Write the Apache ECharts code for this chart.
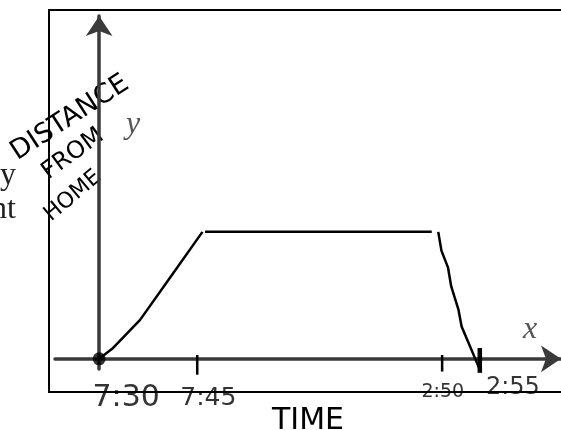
<!DOCTYPE html>
<html>
<head>
<meta charset="utf-8">
<title>Distance from home</title>
<script src="https://cdn.jsdelivr.net/npm/echarts@6/dist/echarts.min.js"></script>
<style>
  html, body { margin: 0; padding: 0; background: #fff; }
  #main { width: 561px; height: 430px; }
</style>
</head>
<body>
<div id="main"></div>
<script>
// sketch units: x = minutes-ish along the (not to scale) time axis, y = distance
var tripX = [0, 2.0, 6.3, 10.9, 15.9, null, 16.3, 51.2, null, 52.2, 52.7, 53.7, 54.2, 55.3, 55.8, 57.1, 58.5];
var tripY = [0, 0.79, 3.07, 6.38, 10, null, 10, 10, null, 10, 8.5, 7.2, 5.7, 3.9, 2.55, 0.97, -0.73];

var tickX = [15.1, 52.8, 58.6];
var tickTop = [0.3, 0.3, 0.85];
var tickBottom = [-1.25, -1.0, -1.1];

var timeLabels = ['7:30', '7:45', '2:50', '2:55'];
var labelX = [4.15, 16.8, 52.9, 63.7];
var labelY = [-3.1, -3.1, -2.6, -2.25];
var labelSize = [30, 25, 19, 24];

var chart = echarts.init(document.getElementById('main'), null, {renderer: 'canvas'});

var hand = "'DejaVu Sans', sans-serif";
var serif = "'Liberation Serif', serif";

var series = [];

series.push({
  type: 'line',
  data: tripX.map(function (x, i) { return x === null ? ['-', '-'] : [x, tripY[i]]; }),
  showSymbol: false,
  connectNulls: false,
  clip: false,
  lineStyle: {color: '#000', width: 2.5},
  silent: true,
  z: 5
});

// hand drawn tick marks
tickX.forEach(function (x, i) {
  series.push({
    type: 'line',
    data: [[x, tickTop[i]], [x, tickBottom[i]]],
    showSymbol: false,
    clip: false,
    lineStyle: {color: '#000', width: i === 2 ? 4.5 : 2.5},
    silent: true,
    z: 6
  });
});

// start dot
series.push({
  type: 'scatter',
  data: [[0, 0]],
  symbolSize: 13,
  itemStyle: {color: '#000'},
  silent: true,
  z: 7
});

// time labels
series.push({
  type: 'scatter',
  data: labelX.map(function (x, i) {
    return {
      value: [x, labelY[i]],
      label: {fontSize: labelSize[i]}
    };
  }),
  symbolSize: 1,
  itemStyle: {color: 'rgba(0,0,0,0)'},
  clip: false,
  silent: true,
  label: {
    show: true,
    position: 'inside',
    color: '#000',
    fontFamily: hand,
    formatter: function (p) { return timeLabels[p.dataIndex]; }
  }
});

var axisLine = {
  onZero: true,
  symbol: ['none', 'arrow'],
  symbolSize: [20, 20],
  lineStyle: {color: '#3a3a3a', width: 3.5}
};

var option = {
  animation: false,
  backgroundColor: '#fff',
  grid: {left: 55, right: 0, top: 16, bottom: 61, outerBoundsMode: 'none', containLabel: false},
  xAxis: {
    type: 'value',
    min: -6.8,
    max: 71.1,
    name: 'TIME',
    nameLocation: 'middle',
    nameGap: 37,
    nameTextStyle: {fontSize: 30, color: '#000', fontFamily: hand},
    axisLine: axisLine,
    axisTick: {show: false},
    axisLabel: {show: false},
    splitLine: {show: false}
  },
  yAxis: {
    type: 'value',
    min: -0.8,
    max: 27,
    axisLine: axisLine,
    axisTick: {show: false},
    axisLabel: {show: false},
    splitLine: {show: false}
  },
  graphic: [
    // surrounding frame
    {type: 'rect', shape: {x: 49, y: 10, width: 540, height: 382}, style: {fill: 'none', stroke: '#000', lineWidth: 2}, z: -1},
    // cut off text from the page on the left
    {type: 'text', x: 0, y: 160, style: {text: 'y', fontSize: 32, fontFamily: serif, fill: '#222'}},
    {type: 'text', x: -9, y: 194, style: {text: 'nt', fontSize: 32, fontFamily: serif, fill: '#222'}},
    // printed axis letters
    {type: 'text', x: 133, y: 125, style: {text: 'y', fontSize: 32, fontStyle: 'italic', fontFamily: serif, fill: '#555', align: 'center', verticalAlign: 'middle'}},
    {type: 'text', x: 530, y: 330, style: {text: 'x', fontSize: 32, fontStyle: 'italic', fontFamily: serif, fill: '#555', align: 'center', verticalAlign: 'middle'}},
    // hand written y label
    {type: 'text', x: 70, y: 118, rotation: 33 * Math.PI / 180, style: {text: 'DISTANCE', fontSize: 27, fontFamily: hand, fill: '#000', align: 'center', verticalAlign: 'middle'}},
    {type: 'text', x: 73, y: 154, rotation: 36 * Math.PI / 180, style: {text: 'FROM', fontSize: 24, fontFamily: hand, fill: '#000', align: 'center', verticalAlign: 'middle'}},
    {type: 'text', x: 73, y: 196, rotation: 40 * Math.PI / 180, style: {text: 'HOME', fontSize: 22, fontFamily: hand, fill: '#000', align: 'center', verticalAlign: 'middle'}}
  ],
  series: series
};

chart.setOption(option);
</script>
</body>
</html>
